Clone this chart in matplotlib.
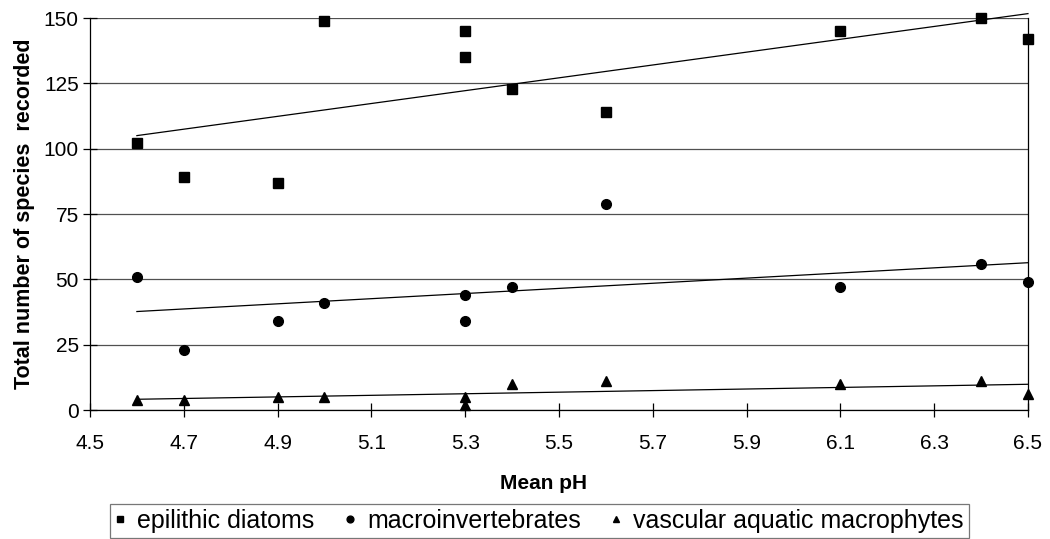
import numpy as np
import matplotlib
matplotlib.use("Agg")
import matplotlib.pyplot as plt

plt.rcParams['font.family'] = ['Liberation Sans', 'DejaVu Sans']

ph = [4.6, 4.7, 4.9, 5.0, 5.3, 5.3, 5.4, 5.6, 6.1, 6.4, 6.5]
diatoms = [102, 89, 87, 149, 145, 135, 123, 114, 145, 150, 142]
macroinv = [51, 23, 34, 41, 44, 34, 47, 79, 47, 56, 49]
macrophytes = [4, 4, 5, 5, 5, 2, 10, 11, 10, 11, 6]

series = [
    ("epilithic diatoms", diatoms, "s", 7),
    ("macroinvertebrates", macroinv, "o", 7),
    ("vascular aquatic macrophytes", macrophytes, "^", 7),
]

fig = plt.figure(figsize=(10.5, 5.39), dpi=100)
ax = fig.add_axes([0.0857, 0.2393, 0.979 - 0.0857, 0.9666 - 0.2393])

# points + linear trend line for each group
x = np.array(ph)
xs = np.array([min(ph), max(ph)])
for label, y, m, ms in series:
    ax.plot(x, y, linestyle='none', marker=m, markersize=ms, color='black',
            label=label, clip_on=False, zorder=3)
    k, b = np.polyfit(x, np.array(y), 1)
    ax.plot(xs, k * xs + b, color='black', linewidth=0.9, clip_on=False, zorder=2)

ax.set_xlim(4.5, 6.5)
ax.set_ylim(0, 150)
ax.set_xticks(np.round(np.arange(4.5, 6.51, 0.2), 1))
ax.set_yticks(range(0, 151, 25))
ax.yaxis.grid(True, color='#505050', linewidth=0.9)
ax.set_axisbelow(True)
for s in ['left', 'bottom', 'right']:
    ax.spines[s].set_color('black')
    ax.spines[s].set_linewidth(0.9)
ax.spines['top'].set_visible(False)
ax.tick_params(axis='x', direction='inout', length=10, width=0.9, labelsize=15, pad=12)
ax.tick_params(axis='y', direction='inout', length=10, width=0.9, labelsize=15, pad=3)

ax.set_xlabel("Mean pH", fontsize=15, fontweight='bold')
ax.xaxis.set_label_coords(0.483, -0.163)
ax.set_ylabel("Total number of species  recorded", fontsize=15.5, fontweight='bold', labelpad=6)

leg = fig.legend(loc='upper center', bbox_to_anchor=(0.5138, 1 - 504 / 539), ncol=3,
                 fontsize=18, frameon=True, fancybox=False, handlelength=0.4,
                 handletextpad=0.5, columnspacing=1.2, borderpad=0.2,
                 borderaxespad=0, markerscale=0.7)
leg.get_frame().set_edgecolor('#555555')
leg.get_frame().set_linewidth(0.9)

fig.savefig("out.png", dpi=100)
